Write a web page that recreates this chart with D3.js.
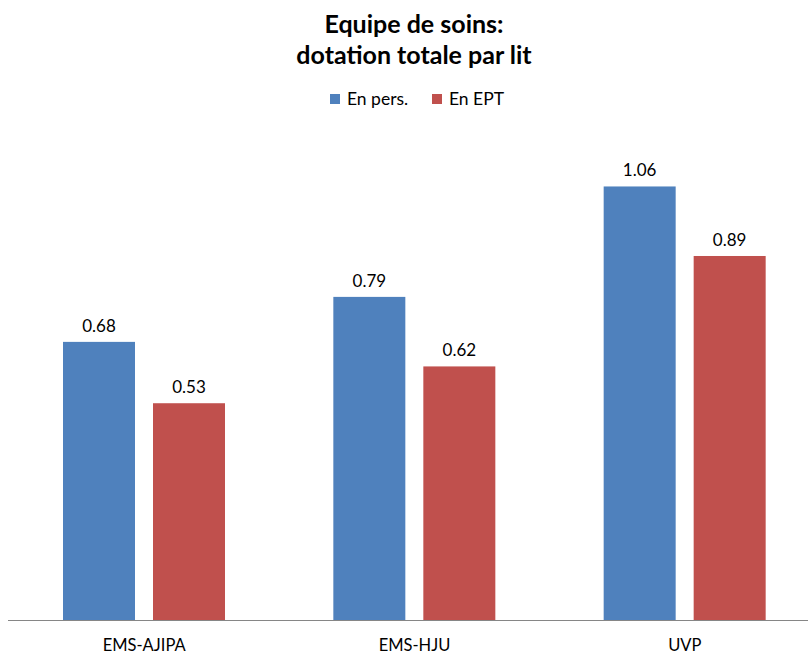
<!DOCTYPE html>
<html>
<head>
<meta charset="utf-8">
<script src="https://cdn.jsdelivr.net/npm/d3@7"></script>
<style>
  body { margin: 0; background: #fff; }
  text { font-family: Lato, "Open Sans", sans-serif; fill: #000; }
</style>
</head>
<body>
<svg id="chart" width="810" height="657"></svg>
<script>
const categories = ["EMS-AJIPA", "EMS-HJU", "UVP"];
const seriesNames = ["En pers.", "En EPT"];
const enPers = [0.68, 0.79, 1.06];
const enEPT = [0.53, 0.62, 0.89];
const colors = ["#4F81BD", "#C0504D"];

const svg = d3.select("#chart");
const baseline = 620;

const x = d3.scaleBand().domain(categories).range([9, 820]).paddingInner(0).paddingOuter(0);
const inner = d3.scaleBand().domain(seriesNames).range([54, 216]).paddingInner(0.2);
const y = d3.scaleLinear().domain([0, 1.2]).range([baseline, baseline - 1.2 * 409]);

const rows = categories.map((c, i) => ({ cat: c, vals: [enPers[i], enEPT[i]] }));

// Title
const title = svg.append("text").attr("x", 414).attr("text-anchor", "middle")
  .style("font-weight", "bold").style("font-size", "25px");
title.append("tspan").attr("x", 414).attr("y", 33).text("Equipe de soins:");
title.append("tspan").attr("x", 414).attr("y", 64).text("dotation totale par lit");

// Legend
const legend = svg.append("g");
const legendItems = [{ name: seriesNames[0], x: 330 }, { name: seriesNames[1], x: 432 }];
legendItems.forEach((d, i) => {
  legend.append("rect").attr("x", d.x).attr("y", 94).attr("width", 10).attr("height", 10).attr("fill", colors[i]);
  legend.append("text").attr("x", d.x + 17).attr("y", 105).style("font-size", "17.5px").text(d.name);
});

// Bars
const groups = svg.selectAll("g.cat").data(rows).enter().append("g")
  .attr("class", "cat").attr("transform", d => `translate(${x(d.cat)},0)`);

groups.selectAll("rect").data(d => d.vals.map((v, j) => ({ v, s: seriesNames[j], j })))
  .enter().append("rect")
  .attr("x", d => inner(d.s))
  .attr("width", inner.bandwidth())
  .attr("y", d => y(d.v))
  .attr("height", d => baseline - y(d.v))
  .attr("fill", d => colors[d.j]);

groups.selectAll("text.val").data(d => d.vals.map((v, j) => ({ v, s: seriesNames[j], j })))
  .enter().append("text").attr("class", "val")
  .attr("x", d => inner(d.s) + inner.bandwidth() / 2)
  .attr("y", d => y(d.v) - 10)
  .attr("text-anchor", "middle")
  .style("font-size", "17px")
  .text(d => d3.format(".2f")(d.v));

// Category axis
svg.append("line").attr("x1", 8).attr("x2", 808).attr("y1", baseline + 0.5).attr("y2", baseline + 0.5)
  .attr("stroke", "#868686").attr("stroke-width", 1);

svg.selectAll("text.cat").data(categories).enter().append("text").attr("class", "cat")
  .attr("x", d => x(d) + x.bandwidth() / 2)
  .attr("y", 651)
  .attr("text-anchor", "middle")
  .style("font-size", "16.5px")
  .text(d => d);
</script>
</body>
</html>
